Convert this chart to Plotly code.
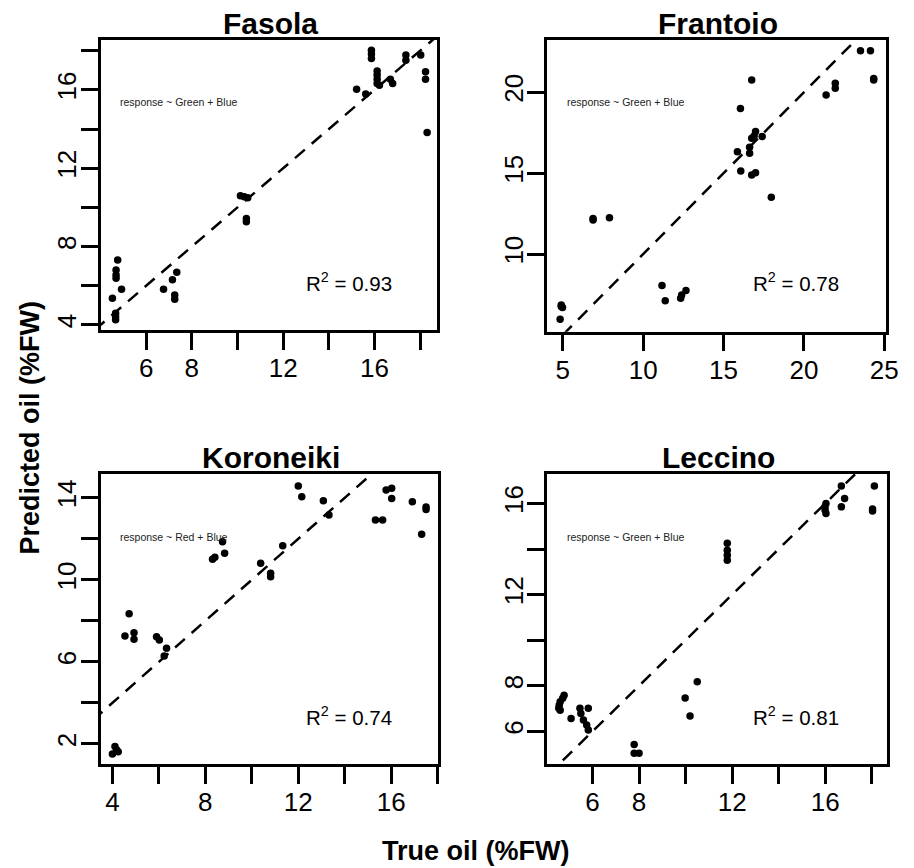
import plotly.graph_objects as go

W, H = 914, 868

# ---------------- data ----------------
panel_names = ["Fasola", "Frantoio", "Koroneiki", "Leccino"]
model_labels = ["response ~ Green + Blue", "response ~ Green + Blue",
                "response ~ Red + Blue", "response ~ Green + Blue"]
r2_values = ["0.93", "0.78", "0.74", "0.81"]

fasola_true = [4.75, 4.68, 4.68, 4.68, 4.92, 4.52, 4.66, 4.66, 4.66, 6.76, 7.15, 7.34,
               7.25, 7.25, 10.13, 10.30, 10.45, 10.39, 10.39, 15.22, 15.62, 15.87, 15.87,
               15.87, 16.12, 16.12, 16.12, 16.12, 16.22, 16.70, 16.80, 17.38, 17.38, 18.03,
               18.24, 18.24, 18.31]
fasola_pred = [7.32, 6.81, 6.55, 6.38, 5.82, 5.36, 4.60, 4.42, 4.26, 5.82, 6.30, 6.69,
               5.53, 5.31, 10.60, 10.55, 10.50, 9.44, 9.27, 16.03, 15.79, 18.03, 17.83,
               17.61, 16.97, 16.76, 16.54, 16.33, 16.24, 16.54, 16.33, 17.78, 17.52, 17.78,
               16.93, 16.54, 13.83]

frantoio_true = [23.52, 24.14, 24.34, 24.34, 16.75, 21.38, 21.95, 21.95, 16.05, 16.99,
                 16.75, 16.90, 17.40, 16.62, 15.86, 16.62, 16.07, 16.75, 16.99, 17.97,
                 6.88, 6.88, 7.90, 11.17, 11.37, 12.33, 12.39, 12.66, 4.90, 4.90, 4.98, 4.83]
frantoio_pred = [22.57, 22.57, 20.85, 20.75, 20.76, 19.83, 20.56, 20.25, 18.99, 17.57,
                 17.16, 17.30, 17.26, 16.60, 16.33, 16.23, 15.14, 14.89, 15.03, 13.51,
                 12.10, 12.20, 12.25, 8.05, 7.12, 7.27, 7.47, 7.74, 6.75, 6.85, 6.70, 5.97]

koroneiki_true = [12.0, 12.15, 13.08, 13.32, 15.78, 16.02, 16.02, 15.32, 15.63, 16.91,
                  17.50, 17.50, 17.31, 11.33, 10.38, 10.81, 10.81, 8.74, 8.83, 8.31, 8.41,
                  4.72, 4.54, 4.93, 4.93, 5.90, 6.02, 6.33, 6.23, 4.11, 4.18, 4.25, 4.0]
koroneiki_pred = [14.57, 14.05, 13.86, 13.16, 14.38, 14.46, 13.97, 12.92, 12.92, 13.81,
                  13.55, 13.43, 12.22, 11.66, 10.81, 10.32, 10.15, 11.86, 11.29, 11.0, 11.1,
                  8.34, 7.26, 7.42, 7.10, 7.23, 7.07, 6.66, 6.29, 1.87, 1.71, 1.62, 1.51]

leccino_true = [16.69, 18.11, 16.83, 16.69, 18.03, 18.03, 16.03, 15.99, 15.99, 16.03,
                11.79, 11.79, 11.79, 11.79, 10.50, 9.98, 10.19, 7.79, 7.79, 8.0,
                4.78, 4.72, 4.61, 4.57, 4.55, 4.61, 5.08, 5.46, 5.50, 5.82, 5.61, 5.75, 5.82]
leccino_pred = [16.76, 16.76, 16.22, 15.85, 15.75, 15.67, 16.0, 15.85, 15.71, 15.56,
                14.25, 13.95, 13.73, 13.51, 8.18, 7.47, 6.68, 5.43, 5.04, 5.04,
                7.59, 7.45, 7.30, 7.15, 7.01, 6.93, 6.57, 7.01, 6.79, 7.01, 6.50, 6.28, 6.06]

true_values = [fasola_true, frantoio_true, koroneiki_true, leccino_true]
pred_values = [fasola_pred, frantoio_pred, koroneiki_pred, leccino_pred]

# axis ranges (as seen in the reference)
x_ranges = [[4.0, 18.73], [4.02, 25.12], [3.49, 18.0], [4.05, 18.66]]
y_ranges = [[3.74, 18.55], [5.2, 23.23], [1.02, 15.16], [4.57, 17.29]]

# labelled ticks
x_label_ticks = [[6, 8, 12, 16], [5, 10, 15, 20, 25], [4, 8, 12, 16], [6, 8, 12, 16]]
y_label_ticks = [[4, 8, 12, 16], [10, 15, 20], [2, 6, 10, 14], [6, 8, 12, 16]]
# unlabelled ticks (labels dropped for lack of room)
x_plain_ticks = [[10, 14, 18], [], [6, 10, 14, 18], [10, 14, 18]]
y_plain_ticks = [[6, 10, 14, 18], [], [4, 8, 12], [10, 14]]

# ---------------- layout geometry (pixels) ----------------
boxes = [(102, 443, 40, 330), (555, 899, 40, 331.7),
         (102, 444, 474, 764), (555, 900, 474, 764)]

FONT = "Arial, Liberation Sans, sans-serif"


def px(x):
    return x / W


def py(y):
    return 1 - y / H


fig = go.Figure()
layout = dict(
    width=W, height=H,
    margin=dict(l=0, r=0, t=0, b=0),
    paper_bgcolor="white", plot_bgcolor="white",
    showlegend=False,
    font=dict(family=FONT, color="black"),
)
annotations = []


def minor(vals):
    if not vals:
        return dict(ticks="")
    return dict(tickmode="array", tickvals=vals, ticks="outside", ticklen=17,
                tickwidth=2.5, tickcolor="black", showgrid=False)


for i in range(4):
    sfx = "" if i == 0 else str(i + 1)
    xa, ya = "x" + sfx, "y" + sfx
    x0, x1, y0, y1 = boxes[i]
    xr, yr = x_ranges[i], y_ranges[i]

    fig.add_trace(go.Scatter(
        x=true_values[i], y=pred_values[i], mode="markers",
        marker=dict(color="black", size=7.5, line=dict(width=0)),
        xaxis=xa, yaxis=ya, hoverinfo="skip"))

    lo = min(xr[0], yr[0])
    hi = max(xr[1], yr[1])
    fig.add_trace(go.Scatter(
        x=[lo, hi], y=[lo, hi], mode="lines",
        line=dict(color="black", width=2.5, dash="13px,9px"),
        xaxis=xa, yaxis=ya, hoverinfo="skip"))

    common = dict(showgrid=False, zeroline=False, showline=True, linecolor="black",
                  linewidth=2.5, mirror=True, ticks="outside", ticklen=17,
                  tickwidth=2.5, tickcolor="black",
                  tickfont=dict(size=26, family=FONT, color="black"))

    layout["xaxis" + sfx] = dict(common, domain=[px(x0), px(x1)], range=xr,
                                 anchor=ya, tickmode="array",
                                 tickvals=x_label_ticks[i],
                                 ticktext=[str(v) for v in x_label_ticks[i]],
                                 ticklabelstandoff=-4,
                                 minor=minor(x_plain_ticks[i]))
    layout["yaxis" + sfx] = dict(common, domain=[py(y1), py(y0)], range=yr,
                                 anchor=xa, tickmode="array", tickangle=-90,
                                 tickvals=y_label_ticks[i],
                                 ticktext=[str(v) for v in y_label_ticks[i]],
                                 ticklabelstandoff=-6,
                                 minor=minor(y_plain_ticks[i]))

    # panel title
    annotations.append(dict(
        text="<b>%s</b>" % panel_names[i], xref="paper", yref="paper",
        x=px((x0 + x1) / 2 + 1.5), y=py(y0 - 17), xanchor="center", yanchor="middle",
        showarrow=False, font=dict(size=30, family=FONT, color="black")))
    # model formula
    annotations.append(dict(
        text=model_labels[i], xref="paper", yref="paper",
        x=px(x0 + 18), y=py(y0 + 62.5), xanchor="left", yanchor="middle",
        showarrow=False, font=dict(size=10.5, family=FONT, color="#222222")))
    # R^2
    annotations.append(dict(
        text="R<sup>2</sup> = %s" % r2_values[i], xref="paper", yref="paper",
        x=px(x0 + 252), y=py(y0 + 242), xanchor="center", yanchor="middle",
        showarrow=False, font=dict(size=20.5, family=FONT, color="black")))

annotations.append(dict(
    text="<b>Predicted oil (%FW)</b>", xref="paper", yref="paper",
    x=px(30), y=py(428), xanchor="center", yanchor="middle", textangle=-90,
    showarrow=False, font=dict(size=27, family=FONT, color="black")))
annotations.append(dict(
    text="<b>True oil (%FW)</b>", xref="paper", yref="paper",
    x=px(482), y=py(851), xanchor="center", yanchor="middle",
    showarrow=False, font=dict(size=27, family=FONT, color="black")))

layout["annotations"] = annotations
fig.update_layout(**layout)
fig.write_html("out.html")
